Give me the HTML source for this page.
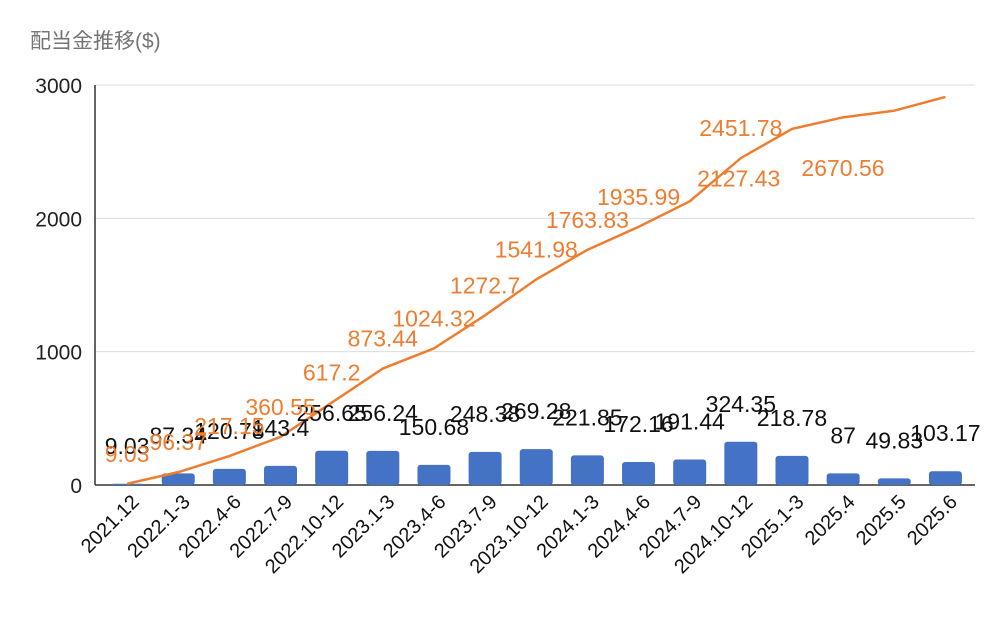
<!DOCTYPE html>
<html><head><meta charset="utf-8"><style>
body{margin:0;background:#fff;}
svg{display:block;font-family:"Liberation Sans","Noto Sans CJK JP",sans-serif;}
</style></head><body>
<svg id="chart" width="1002" height="617" viewBox="0 0 1002 617">
<text x="30" y="48" font-size="21" fill="#757575">配当金推移($)</text>
<g id="grid"></g><g id="bars"></g><g id="line"></g><g id="labels"></g><g id="xaxis"></g>
</svg>
<script>
const categories=["2021.12","2022.1-3","2022.4-6","2022.7-9","2022.10-12","2023.1-3","2023.4-6","2023.7-9","2023.10-12","2024.1-3","2024.4-6","2024.7-9","2024.10-12","2025.1-3","2025.4","2025.5","2025.6"];
const dividends=[9.03,87.34,120.78,143.4,256.65,256.24,150.68,248.38,269.28,221.85,172.16,191.44,324.35,218.78,87,49.83,103.17];
const cumulative=[9.03,96.37,217.15,360.55,617.2,873.44,1024.32,1272.7,1541.98,1763.83,1935.99,2127.43,2451.78,2670.56,2757.56,2807.39,2910.56];
const cumulativeShown=[true,true,true,true,true,true,true,true,true,true,true,true,true,true,false,false,false];
const yTicks=[0,1000,2000,3000];
const NS="http://www.w3.org/2000/svg";
const L=95,R=975,T=85,B=485,YMAX=3000;
const PL=101.5,PR=971;
const step=(PR-PL)/categories.length;
const x=i=>PL+step*(i+0.5);
const y=v=>B-(v/YMAX)*(B-T);
function mk(tag,attrs,parent){const e=document.createElementNS(NS,tag);for(const k in attrs)e.setAttribute(k,attrs[k]);document.getElementById(parent).appendChild(e);return e;}
yTicks.forEach(t=>{
 const g=mk('line',{x1:L,x2:R,y1:y(t),y2:y(t),stroke:t===0?'#333':'#ddd','stroke-width':t===0?1.5:1},'grid');
 
 
 const lb=mk('text',{x:82,y:y(t)+8,'text-anchor':'end','font-size':21,fill:'#222'},'grid');
 lb.textContent=t;
 
 
});
const ax=mk('line',{x1:L,x2:L,y1:T,y2:B,stroke:'#333','stroke-width':1.5},'grid');


dividends.forEach((v,i)=>{
 const r=mk('rect',{x:x(i)-16.5,y:y(v),width:33,height:B-y(v),fill:'#4472c4',rx:3},'bars');
 
 
 const t=mk('text',{x:x(i),y:y(v)-30,'text-anchor':'middle','font-size':23,fill:'#111'},'labels');
 t.textContent=v;
 
 
});
const pts=cumulative.map((v,i)=>x(i)+','+y(v)).join(' ');
const pl=mk('polyline',{points:pts,fill:'none',stroke:'#ed7d31','stroke-width':2.5},'line');


const offX={11:49,13:51},offY={11:-23,13:39};
cumulative.forEach((v,i)=>{
 if(!cumulativeShown[i])return;
 const dx=offX[i]||0,dy=offY[i]!==undefined?offY[i]:-30;
 const t=mk('text',{x:x(i)+dx,y:y(v)+dy+8,'text-anchor':'middle','font-size':23,fill:'#ed7d31'},'labels');
 t.textContent=v;
 
 
});
categories.forEach((c,i)=>{
 const cx=x(i)+13,cy=503;
 const t=mk('text',{x:cx,y:cy,'text-anchor':'end','font-size':20,fill:'#111',transform:`rotate(-45 ${cx} ${cy})`},'xaxis');
 t.textContent=c;
 
 
});
</script>
</body></html>
